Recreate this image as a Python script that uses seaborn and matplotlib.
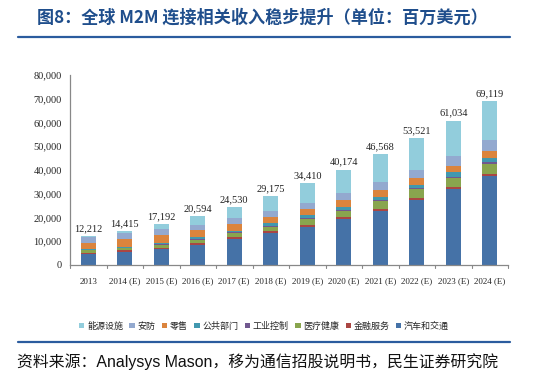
import numpy as np
import pandas as pd
import matplotlib
matplotlib.use("Agg")
import matplotlib.pyplot as plt
import seaborn as sns
from matplotlib.lines import Line2D
from matplotlib.patches import Patch

years = ["2013", "2014 (E)", "2015 (E)", "2016 (E)", "2017 (E)", "2018 (E)",
         "2019 (E)", "2020 (E)", "2021 (E)", "2022 (E)", "2023 (E)", "2024 (E)"]
totals = [12212, 14415, 17192, 20594, 24530, 29175, 34410, 40174, 46568, 53521, 61034, 69119]

# stacked from bottom to top
auto       = [4500, 5600, 6600, 8400, 10900, 13600, 16100, 19500, 22900, 27400, 32000, 37500]
finance    = [700, 600, 600, 700, 700, 700, 900, 600, 800, 800, 700, 1000]
health     = [1100, 800, 1100, 1400, 1700, 1800, 2500, 2800, 3400, 3700, 4000, 4200]
industrial = [200, 300, 400, 400, 400, 400, 400, 400, 400, 500, 500, 500]
public     = [200, 400, 700, 800, 700, 1000, 1000, 1000, 1000, 1200, 1900, 1700]
retail     = [2700, 3200, 3100, 3000, 3000, 2800, 2800, 3100, 3100, 3000, 2400, 3200]
security   = [2300, 2400, 2500, 2100, 2500, 2600, 2500, 2800, 3400, 3400, 4200, 4500]
energy     = [500, 1100, 2200, 3800, 4600, 6300, 8200, 10000, 11600, 13500, 15100, 16500]

series_names = ["汽车和交通", "金融服务", "医疗健康", "工业控制", "公共部门", "零售", "安防", "能源设施"]
series_vals = [auto, finance, health, industrial, public, retail, security, energy]
colors = ["#4572A7", "#AA4643", "#89A54E", "#71588F", "#4198AF", "#DB843D", "#93A9CF", "#92CDDC"]

sns.set_style("white")
plt.rcParams['font.family'] = ['Liberation Serif', 'Noto Sans CJK SC', 'DejaVu Sans']

fig = plt.figure(figsize=(5.42, 3.80), dpi=100)
ax = fig.add_axes([70/542, 1-265/380, (508-70)/542, 190/380])

cum = np.cumsum(np.array(series_vals), axis=0)
# draw from top layer down so each smaller cumulative covers the one above
for i in range(len(series_names)-1, -1, -1):
    df = pd.DataFrame({"year": years, "val": cum[i]})
    sns.barplot(data=df, x="year", y="val", color=colors[i], saturation=1,
                width=0.41, ax=ax, edgecolor="none", linewidth=0)

for x, t in enumerate(totals):
    ax.text(x, t + 1200, f"{t:,}", ha="center", va="bottom", fontsize=7.5,
            family=['Liberation Serif'], color="#222222")

ax.set_ylim(0, 80000)
ax.set_xlim(-0.5, len(years)-0.5)
ax.set_yticks(np.arange(0, 80001, 10000))
ax.set_yticklabels([f"{v:,}" for v in range(0, 80001, 10000)], fontsize=7.5)
ax.set_xlabel("")
ax.set_ylabel("")
ax.set_xticks(np.arange(len(years)))
ax.set_xticklabels(years, fontsize=6.5)
ax.tick_params(axis="x", length=0, pad=9)
ax.tick_params(axis="y", length=3, width=0.8, color="#888888", pad=3)
for s in ["top", "right"]:
    ax.spines[s].set_visible(False)
for s in ["left", "bottom"]:
    ax.spines[s].set_color("#888888")
    ax.spines[s].set_linewidth(0.9)
# category boundary ticks on x axis
for b in np.arange(-0.5, len(years)):
    ax.plot([b, b], [0, -1300], color="#888888", lw=0.8, clip_on=False)

# legend (order as in reference)
leg_order = [7, 6, 5, 4, 3, 2, 1, 0]
handles = [Patch(facecolor=colors[i], edgecolor="none") for i in leg_order]
labels = [series_names[i] for i in leg_order]
fig.legend(handles, labels, loc="center", bbox_to_anchor=(264/542, 1-326/380), ncol=8,
           frameon=False, handlelength=0.6, handleheight=0.6,
           handletextpad=0.3, columnspacing=0.7,
           prop={'family': ['Noto Sans CJK SC'], 'size': 6.5})

# title and rules
fig.text(37/542, 1-18/380, "图8：全球 M2M 连接相关收入稳步提升（单位：百万美元）",
         fontsize=12.3, fontweight="bold", color="#1F4E8C", ha="left", va="center",
         family=['Noto Sans CJK SC', 'DejaVu Sans'])
fig.add_artist(Line2D([18/542, 510/542], [1-37/380, 1-37/380], color="#2B5C9E", lw=1.6))
fig.add_artist(Line2D([18/542, 510/542], [1-342/380, 1-342/380], color="#2B5C9E", lw=1.6))
fig.text(17/542, 1-362/380, "资料来源：Analysys Mason，移为通信招股说明书，民生证券研究院",
         fontsize=11.4, color="#111111", ha="left", va="center",
         family=['Liberation Sans', 'Noto Sans CJK SC'])

fig.savefig("out.png", dpi=100)
